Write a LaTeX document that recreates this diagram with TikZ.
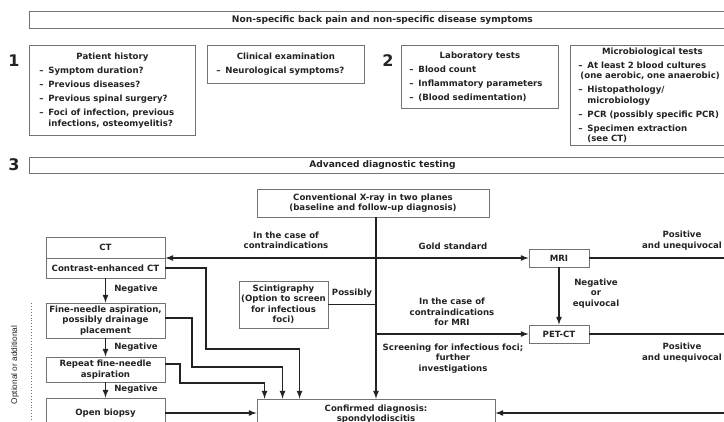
\documentclass[tikz,border=0pt]{standalone}
\usepackage{fontspec}
\setmainfont{DejaVu Sans}
\newfontfamily\narrowfont{Liberation Sans}
\usepackage{tikz}
\tikzset{>=latex}
\definecolor{Ink}{RGB}{35,35,35}
\definecolor{Frame}{RGB}{115,115,115}
\newcommand{\itm}[1]{\par\vspace{3.5pt}\hangindent=9pt\hangafter=1\makebox[9pt][l]{–}#1}
\tikzset{
        box/.style={draw=Frame, line width=0.9pt, fill=white, inner sep=1pt, align=center, text=Ink, font=\fontsize{8.6}{10.5}\selectfont\bfseries},
        banner/.style={box, anchor=north west, minimum width=706pt, font=\fontsize{9.1}{10.5}\selectfont\bfseries},
        infobox/.style={draw=Frame, line width=0.9pt, inner xsep=9pt, inner ysep=1pt, anchor=north west, text=Ink, font=\fontsize{8.6}{10.5}\selectfont\bfseries},
        num/.style={text=Ink, inner sep=0pt, font=\fontsize{16}{16}\selectfont\bfseries},
        lbl/.style={text=Ink, align=center, inner sep=0pt, font=\fontsize{8.6}{10.5}\selectfont\bfseries},
        link/.style={draw=Ink, line width=1.6pt},
        flow/.style={link, ->}
}

\begin{document}
\begin{tikzpicture}[x=1pt,y=-1pt]
        \useasboundingbox (0,0) rectangle (724,421);
        \clip (0,0) rectangle (724,421);
        \node[banner, minimum height=17pt] (symptoms) at (29,11) {Non-specific back pain and non-specific disease symptoms};
        \node[num] (step1) at (14,61) {1};
        \node[infobox, text width=146pt, minimum height=90pt, inner xsep=10pt] (history) at (29,45) {\centering Patient history\par\raggedright
                \itm{Symptom duration?}\itm{Previous diseases?}\itm{Previous spinal surgery?}\itm{Foci of infection, previous\newline infections, osteomyelitis?}\par};
        \node[infobox, text width=139pt, minimum height=38pt] (exam) at (207,45) {\centering Clinical examination\par\raggedright
                \itm{Neurological symptoms?}\par};
        \node[num] (step2) at (388,61) {2};
        \node[infobox, text width=141pt, minimum height=63pt, inner xsep=8pt] (lab) at (401,45) {\centering Laboratory tests\par\raggedright
                \itm{Blood count}\itm{Inflammatory parameters}\itm{(Blood sedimentation)}\par};
        \node[infobox, text width=148pt, minimum height=100pt, inner xsep=8pt] (micro) at (570,45) {\centering Microbiological tests\par\raggedright
                \itm{\mbox{At least 2 blood cultures}\newline\hspace*{-7pt}\mbox{(one aerobic, one anaerobic)}}\itm{\mbox{Histopathology/}\newline\mbox{microbiology}}\itm{\mbox{PCR (possibly specific PCR)}}\itm{\mbox{Specimen extraction}\newline\mbox{(see CT)}}\par};
        \node[num] (step3) at (14,165) {3};
        \node[banner, minimum height=16pt] (advanced) at (29,157) {Advanced diagnostic testing};

        \node[box, minimum width=232pt, minimum height=28pt] (xray) at (373,203) {Conventional X-ray in two planes\\(baseline and follow-up diagnosis)};
        \node[box, minimum width=119pt, minimum height=21pt] (ct) at (105.5,247.5) {CT};
        \node[box, minimum width=119pt, minimum height=20pt] (cect) at (105.5,268) {Contrast-enhanced CT};
        \node[box, minimum width=119pt, minimum height=35pt] (fna) at (105.5,320.5) {Fine-needle aspiration,\\possibly drainage\\placement};
        \node[box, minimum width=119pt, minimum height=25pt] (repeat) at (105.5,369.5) {Repeat fine-needle\\aspiration};
        \node[box, minimum width=119pt, minimum height=30pt] (biopsy) at (105.5,413) {Open biopsy};
        \node[box, minimum width=89pt, minimum height=47pt] (scint) at (283.5,304.5) {Scintigraphy\\(Option to screen\\for infectious\\foci)};
        \node[box, minimum width=60pt, minimum height=18pt] (mri) at (559,258) {MRI};
        \node[box, minimum width=60pt, minimum height=18pt] (petct) at (559,334) {PET-CT};
        \node[box, minimum width=238pt, minimum height=30pt] (confirmed) at (376,414) {Confirmed diagnosis:\\spondylodiscitis};
        \coordinate (edgeA) at (740,258);
        \coordinate (edgeB) at (740,334);
        \coordinate (edgeC) at (740,413);

        \draw[flow] (xray.south -| confirmed.north) -- (confirmed.north);
        \draw[flow] (mri.west -| confirmed.north) -- (mri.west);
        \draw[flow] (mri.west -| confirmed.north) -- (mri.west -| ct.east);
        \draw[link] (scint.east) -- (scint.east -| confirmed.north);
        \draw[flow] (petct.west -| confirmed.north) -- (petct.west);
        \draw[flow] (mri) -- (petct);
        \draw[link] (mri.east) -- (edgeA);
        \draw[link] (petct.east) -- (edgeB);
        \draw[flow] (edgeC) -- (edgeC -| confirmed.east);
        \draw[flow] (biopsy.east) -- (biopsy.east -| confirmed.west);
        \draw[flow] (cect) -- (fna);
        \draw[flow] (fna) -- (repeat);
        \draw[flow] (repeat) -- (biopsy);
        \draw[flow] (cect.east) -| (206,349) -| ([xshift=43pt]confirmed.north west);
        \draw[flow] ([yshift=2.5pt]fna.east) -| (192,367) -| ([xshift=26pt]confirmed.north west);
        \draw[flow] ([yshift=5.5pt]repeat.east) -| (180,383) -| ([xshift=8pt]confirmed.north west);

        \node[lbl] (contra) at (286,240.5) {In the case of\\contraindications};
        \node[lbl] (gold) at (453,246) {Gold standard};
        \node[lbl] (posmri) at (682,240.5) {Positive\\and unequivocal};
        \node[lbl] (negmri) at (596,293.5) {Negative\\or\\equivocal};
        \node[lbl] (possibly) at (352,293) {Possibly};
        \node[lbl] (contramri) at (452,312) {In the case of\\contraindications\\for MRI};
        \node[lbl] (screening) at (453,358.5) {Screening for infectious foci;\\further\\investigations};
        \node[lbl] (pospet) at (682,352.5) {Positive\\and unequivocal};
        \node[lbl] (neg1) at (136,289) {Negative};
        \node[lbl] (neg2) at (136,347.5) {Negative};
        \node[lbl] (neg3) at (136,389.5) {Negative};

        \draw[Frame, dotted, line width=0.9pt] (31,303) -- (31,425);
        \node[rotate=90, text=Ink, font=\narrowfont\fontsize{8.3}{9}\selectfont] (optional) at (15,365) {Optional or additional};
\end{tikzpicture}
\end{document}
